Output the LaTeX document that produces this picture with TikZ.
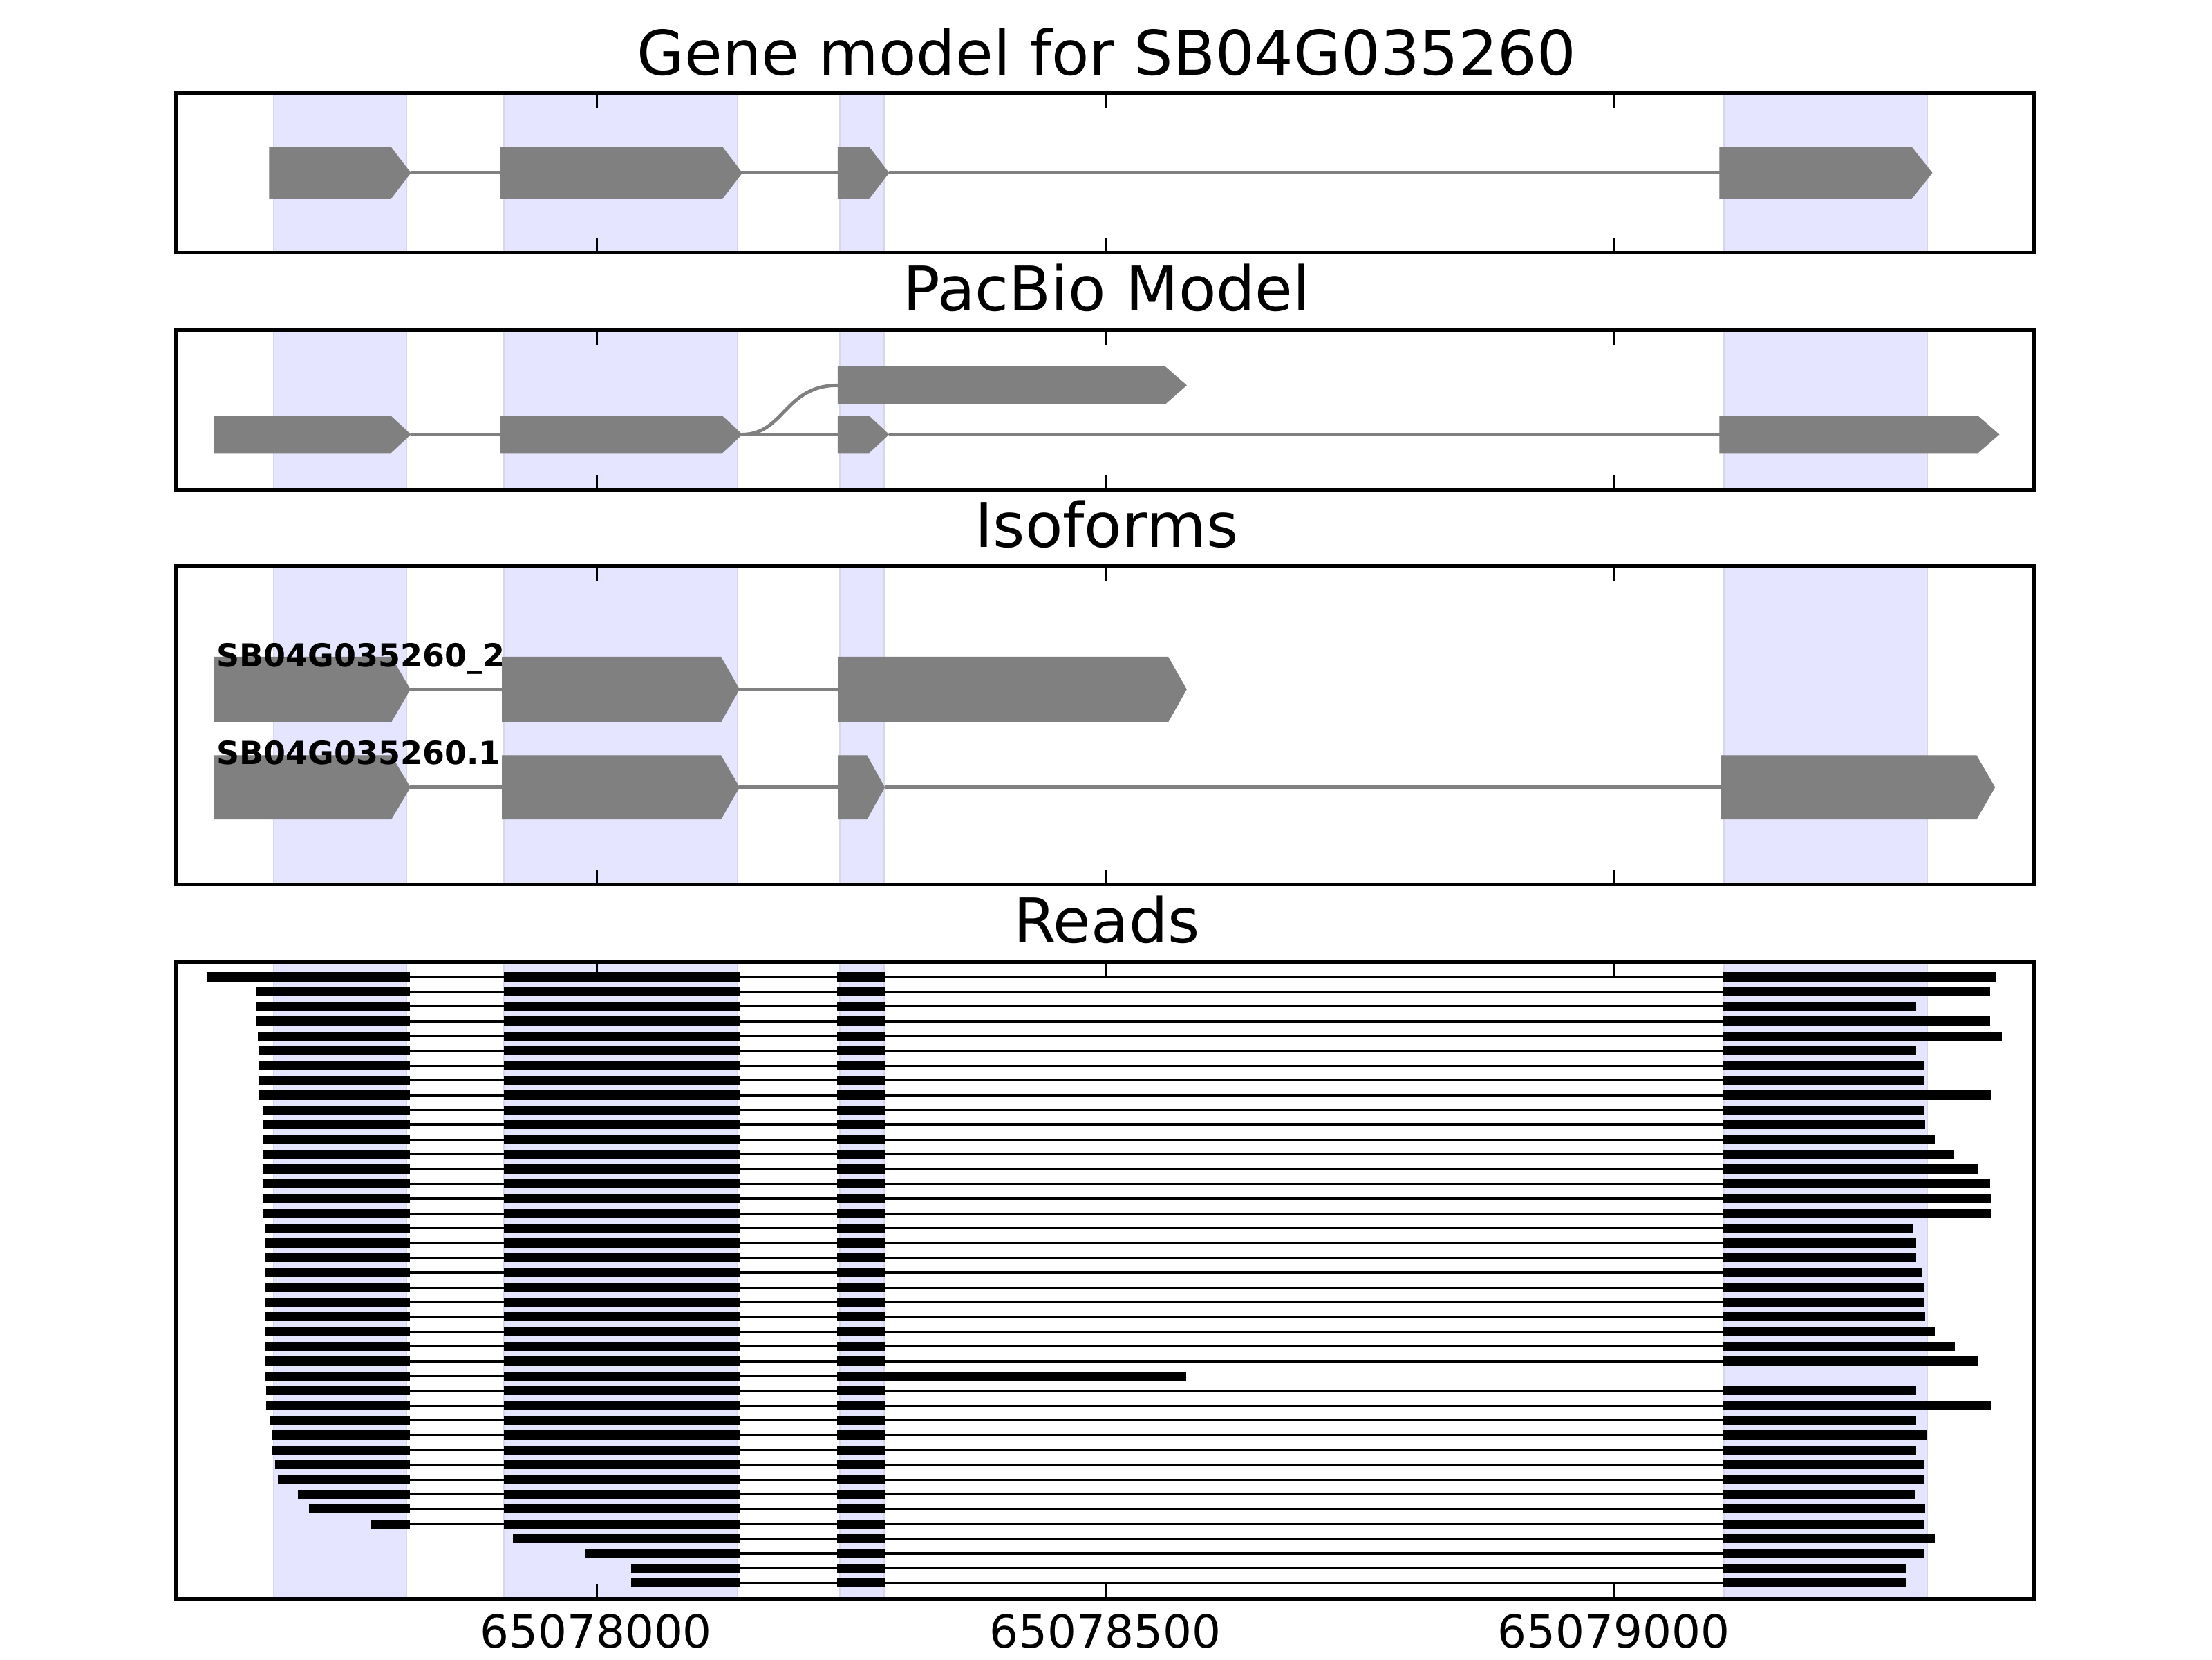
\documentclass[tikz,border=0pt]{standalone}
\usepackage{fontspec}
\setmainfont{DejaVu Sans}
\definecolor{shade}{RGB}{229,229,255}
\definecolor{shadeedge}{RGB}{214,214,236}
\newcommand{\exonbox}[5]{\filldraw[exon] (#1,#4-#5) -- (#2,#4-#5) -- (#3,#4) -- (#2,#4+#5) -- (#1,#4+#5) -- cycle;}

\begin{document}
\begin{tikzpicture}[x=1pt,y=-1pt,
  band/.style={fill=shade,draw=shadeedge,line width=1pt},
  frame/.style={draw=black,line width=2.6pt},
  tickmark/.style={line width=1.2pt},
  exon/.style={fill=gray,draw=gray,line width=0.4pt},
  intron/.style={draw=gray,line width=2.4pt},
  readexon/.style={line width=6.5pt},
  readintron/.style={line width=1.5pt},
  paneltitle/.style={font=\fontsize{43.6}{50}\selectfont,inner sep=0pt,anchor=base},
  ticklabel/.style={font=\fontsize{32.3}{38}\selectfont,inner sep=0pt},
  isolabel/.style={font=\fontsize{22.5}{26}\selectfont\bfseries,inner sep=0pt,anchor=base west}]
\useasboundingbox[fill=white] (0,0) rectangle (1568,1176);

\foreach \t/\b in {66/179,234/347,401/627,682/1133}{
  \filldraw[band] (194,\t) rectangle (288.3,\b);
  \filldraw[band] (357,\t) rectangle (523,\b);
  \filldraw[band] (595.5,\t) rectangle (626.5,\b);
  \filldraw[band] (1221.8,\t) rectangle (1366,\b);
}

\node[paneltitle] (titlegene) at (784.5,53.1) {Gene model for SB04G035260};
\draw[intron] (291,122.5) -- (355,122.5) (526,122.5) -- (594,122.5) (630,122.5) -- (1219,122.5);
\exonbox{191}{277}{291}{122.5}{18.3}
\exonbox{355}{512}{526}{122.5}{18.3}
\exonbox{594}{616}{630}{122.5}{18.3}
\exonbox{1219}{1355}{1369.5}{122.5}{18.3}

\node[paneltitle] (titlepacbio) at (784.5,220.2) {PacBio Model};
\draw[intron] (291,307.9) -- (355,307.9) (526,307.9) -- (594,307.9) (630,307.9) -- (1219,307.9);
\draw[intron] (526,307.9) .. controls (556,307.9) and (556,273.1) .. (594,273.1);
\exonbox{152}{277}{291}{307.9}{13}
\exonbox{355}{512}{526}{307.9}{13}
\exonbox{594}{616}{630}{307.9}{13}
\exonbox{1219}{1402}{1417}{307.9}{13}
\exonbox{594}{826}{841}{273.1}{13.1}

\node[paneltitle] (titleiso) at (784.5,388) {Isoforms};
\draw[intron] (290.7,488.6) -- (356,488.6) (524,488.6) -- (594.4,488.6);
\exonbox{152}{277.3}{290.7}{488.6}{23}
\exonbox{356}{511}{524}{488.6}{23}
\exonbox{594.4}{828}{841}{488.6}{23}
\draw[intron] (290.7,558) -- (356,558) (524,558) -- (594.4,558) (627,558) -- (1220,558);
\exonbox{152}{277.3}{290.7}{558}{22.5}
\exonbox{356}{511}{524}{558}{22.5}
\exonbox{594.4}{614.5}{627}{558}{22.5}
\exonbox{1220}{1401}{1414}{558}{22.5}
\node[isolabel] (isotwo) at (153.5,472.5) {SB04G035260\_2};
\node[isolabel] (isoone) at (153.5,541.9) {SB04G035260.1};

\node[paneltitle] (titlereads) at (784.5,668) {Reads};
\foreach \i/\s/\e in {1/146.3/1414.6,2/181.1/1410.6,3/181.7/1358.3,4/181.7/1410.6,5/183/1419.2,
  6/183.9/1358.3,7/183.9/1363.5,8/183.9/1363.5,9/183.9/1411.3,10/186.1/1364.2,
  11/186.1/1364.6,12/186.1/1371.4,13/186.1/1385.2,14/186.1/1401.9,15/186.1/1410.6,
  16/186.1/1411.3,17/186.1/1411.3,18/188/1356.3,19/188/1358.3,20/188/1358.3,
  21/188/1362.7,22/188/1364.2,23/188/1364.2,24/188/1364.6,25/188/1371.4,
  26/188/1385.7,27/188/1401.9,29/188.7/1358.3,30/188.7/1411.3,31/191/1358.3,
  32/192.5/1366.2,33/193.3/1358.3,34/194.8/1364.2,35/197/1364.2,36/211.4/1357.8,
  37/218.9/1364.6,38/262.7/1364.2}{
  \pgfmathsetmacro\ry{692.3+(\i-1)*10.48}
  \draw[readintron] (290.5,\ry) -- (1221,\ry);
  \draw[readexon] (\s,\ry) -- (290.5,\ry) (357,\ry) -- (524.5,\ry) (593.5,\ry) -- (627.5,\ry) (1221,\ry) -- (\e,\ry);
}
\draw[readintron] (290.5,975.26) -- (593.5,975.26);
\draw[readexon] (188,975.26) -- (290.5,975.26) (357,975.26) -- (524.5,975.26) (593.5,975.26) -- (841,975.26);
\foreach \i/\s/\e in {39/363.5/1371.4,40/414.5/1363.5,41/447.6/1350.8,42/447.6/1350.8}{
  \pgfmathsetmacro\ry{692.3+(\i-1)*10.48}
  \draw[readintron] (524.5,\ry) -- (1221,\ry);
  \draw[readexon] (\s,\ry) -- (524.5,\ry) (593.5,\ry) -- (627.5,\ry) (1221,\ry) -- (\e,\ry);
}

\foreach \t/\b in {66/179,234/347,401/627,682/1133}{
  \draw[frame] (125,\t) rectangle (1442,\b);
  \foreach \tx in {423,784,1144}{
    \draw[tickmark] (\tx,\t) -- ++(0,10.5);
    \draw[tickmark] (\tx,\b) -- ++(0,-10.5);
  }
}
\node[ticklabel] (tickleft) at (422.5,1156) {65078000};
\node[ticklabel] (tickmid) at (783.5,1156) {65078500};
\node[ticklabel] (tickright) at (1144,1156) {65079000};
\end{tikzpicture}
\end{document}
